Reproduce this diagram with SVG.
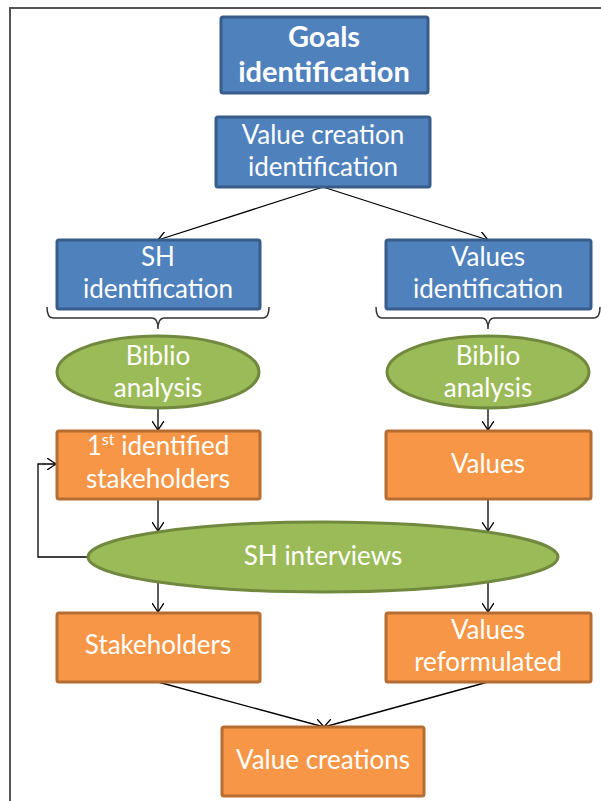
<svg xmlns="http://www.w3.org/2000/svg" width="601" height="801" viewBox="0 0 601 801">
<style>
.blue{fill:#4F81BD;stroke:#385D8A;stroke-width:3}
.orange{fill:#F79646;stroke:#B66D31;stroke-width:3}
.green{fill:#9BBB59;stroke:#71893F;stroke-width:3}
.t{font-family:Lato,"Open Sans",sans-serif;font-size:26px;fill:#FFFFFF;text-anchor:middle}
.tb{font-family:Lato,"Open Sans",sans-serif;font-size:29px;font-weight:bold;fill:#FFFFFF;text-anchor:middle}
.c{fill:none;stroke:#000;stroke-width:1.3}
.brace{fill:none;stroke:#333;stroke-width:1.5}
</style>
<defs>
<marker id="arr" markerUnits="userSpaceOnUse" markerWidth="10" markerHeight="12" viewBox="0 0 10 12" refX="9" refY="6" orient="auto">
<path d="M0,0 L9,6 L0,12" fill="none" stroke="#000" stroke-width="1.3"/>
</marker>
</defs>
<rect width="601" height="801" fill="#FFFFFF"/>
<path d="M10,801 V8 H601" fill="none" stroke="#555" stroke-width="2"/>
<g id="connectors">
<path class="c" d="M323,187 L158,240" marker-end="url(#arr)"/>
<path class="c" d="M323,187 L488,240" marker-end="url(#arr)"/>
<path class="c" d="M158,409 V430" marker-end="url(#arr)"/>
<path class="c" d="M488,409 V430" marker-end="url(#arr)"/>
<path class="c" d="M158,499 V531" marker-end="url(#arr)"/>
<path class="c" d="M488,499 V531" marker-end="url(#arr)"/>
<path class="c" d="M158,583 V612" marker-end="url(#arr)"/>
<path class="c" d="M488,583 V612" marker-end="url(#arr)"/>
<path class="c" d="M158,682 L324,727" marker-end="url(#arr)"/>
<path class="c" d="M488,682 L324,727" marker-end="url(#arr)"/>
<path class="c" d="M88,557 H38 V464 H56" marker-end="url(#arr)"/>
<path class="brace" d="M47,307 Q47,318 53,318 H152 Q158,318 158,329 Q158,318 164,318 H263 Q269,318 269,307"/>
<path class="brace" d="M376,307 Q376,318 382,318 H482 Q488,318 488,329 Q488,318 494,318 H594 Q600,318 600,307"/>
</g>
<g id="goals">
<rect class="blue" x="221" y="17" width="207" height="76" rx="2"/>
<text class="tb" x="324" y="47">Goals</text>
<text class="tb" x="324" y="82">identification</text>
</g>
<g id="value-creation-identification">
<rect class="blue" x="216" y="117" width="214" height="70" rx="2"/>
<text class="t" x="323" y="144">Value creation</text>
<text class="t" x="323" y="176">identification</text>
</g>
<g id="sh-identification">
<rect class="blue" x="57" y="240" width="203" height="69" rx="2"/>
<text class="t" x="158" y="266">SH</text>
<text class="t" x="158" y="298">identification</text>
</g>
<g id="values-identification">
<rect class="blue" x="386" y="240" width="205" height="69" rx="2"/>
<text class="t" x="488" y="266">Values</text>
<text class="t" x="488" y="298">identification</text>
</g>
<g id="biblio-left">
<ellipse class="green" cx="158" cy="372" rx="101" ry="36"/>
<text class="t" x="158" y="365">Biblio</text>
<text class="t" x="158" y="397">analysis</text>
</g>
<g id="biblio-right">
<ellipse class="green" cx="488" cy="372" rx="101" ry="36"/>
<text class="t" x="488" y="365">Biblio</text>
<text class="t" x="488" y="397">analysis</text>
</g>
<g id="first-stakeholders">
<rect class="orange" x="57" y="431" width="203" height="68" rx="2"/>
<text class="t" x="158" y="455">1<tspan font-size="16" dy="-10">st</tspan><tspan dy="10"> identified</tspan></text>
<text class="t" x="158" y="488">stakeholders</text>
</g>
<g id="values">
<rect class="orange" x="386" y="431" width="205" height="68" rx="2"/>
<text class="t" x="488" y="473">Values</text>
</g>
<g id="sh-interviews">
<ellipse class="green" cx="323" cy="557" rx="235" ry="35"/>
<text class="t" x="323" y="565">SH interviews</text>
</g>
<g id="stakeholders">
<rect class="orange" x="57" y="613" width="203" height="69" rx="2"/>
<text class="t" x="158" y="654">Stakeholders</text>
</g>
<g id="values-reformulated">
<rect class="orange" x="386" y="613" width="205" height="69" rx="2"/>
<text class="t" x="488" y="639">Values</text>
<text class="t" x="488" y="671">reformulated</text>
</g>
<g id="value-creations">
<rect class="orange" x="222" y="727" width="202" height="69" rx="2"/>
<text class="t" x="323" y="769">Value creations</text>
</g>
</svg>
